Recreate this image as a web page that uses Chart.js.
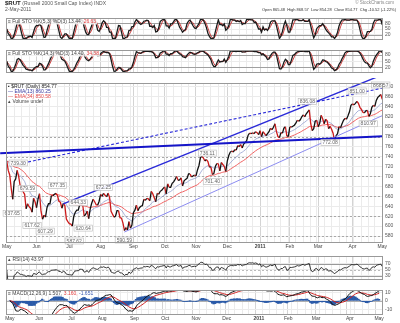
<!DOCTYPE html>
<html><head><meta charset="utf-8">
<script src="https://cdn.jsdelivr.net/npm/chart.js@4.4.1/dist/chart.umd.min.js"></script>
<style>
html,body{margin:0;padding:0;background:#fff;}
body{width:400px;height:323px;position:relative;overflow:hidden;}
canvas{position:absolute;left:0;}
</style></head><body>
<canvas id="hdr" width="400" height="13" style="top:0"></canvas>
<canvas id="c1" width="400" height="32" style="top:13px"></canvas>
<canvas id="c2" width="400" height="33" style="top:45px"></canvas>
<canvas id="c3" width="400" height="173" style="top:78px"></canvas>
<canvas id="c4" width="400" height="34" style="top:251px"></canvas>
<canvas id="c5" width="400" height="38" style="top:285px"></canvas>
<script>
// ---------------- DATA ----------------
const MONTHS = [[2010,5],[2010,6],[2010,7],[2010,8],[2010,9],[2010,10],[2010,11],[2010,12],[2011,1],[2011,2],[2011,3],[2011,4],[2011,5]];
const TRADING_DAYS = [
  [3,4,5,6,7,10,11,12,13,14,17,18,19,20,21,24,25,26,27,28],
  [1,2,3,4,7,8,9,10,11,14,15,16,17,18,21,22,23,24,25,28,29,30],
  [1,2,6,7,8,9,12,13,14,15,16,19,20,21,22,23,26,27,28,29,30],
  [2,3,4,5,6,9,10,11,12,13,16,17,18,19,20,23,24,25,26,27,30,31],
  [1,2,3,7,8,9,10,13,14,15,16,17,20,21,22,23,24,27,28,29,30],
  [1,4,5,6,7,8,11,12,13,14,15,18,19,20,21,22,25,26,27,28,29],
  [1,2,3,4,5,8,9,10,11,12,15,16,17,18,19,22,23,24,26,29,30],
  [1,2,3,6,7,8,9,10,13,14,15,16,17,20,21,22,23,27,28,29,30,31],
  [3,4,5,6,7,10,11,12,13,14,18,19,20,21,24,25,26,27,28,31],
  [1,2,3,4,7,8,9,10,11,14,15,16,17,18,22,23,24,25,28],
  [1,2,3,4,7,8,9,10,11,14,15,16,17,18,21,22,23,24,25,28,29,30,31],
  [1,4,5,6,7,8,11,12,13,14,15,18,19,20,21,25,26,27,28,29],
  [2]
];
const MONTH_NAMES = ['Jan','Feb','Mar','Apr','May','Jun','Jul','Aug','Sep','Oct','Nov','Dec'];
// daily closes of $RUT
const CLOSE = [
  731,712,703,676,654,690,695,712,700,681,680,669,664,635,645,639,636,628,656,649,           // May 2010
  637,655,665,630,614,622,618,637,645,645,662,661,664,666,662,650,648,636,646,641,614,609,   // Jun
  605,604,600,620,628,632,632,644,643,642,620,624,630,615,634,646,654,649,643,642,650,       // Jul
  664,660,666,662,659,666,658,630,624,618,620,631,631,617,616,606,591,597,592,609,596,602,   // Aug
  627,632,642,631,637,640,641,654,652,656,655,651,670,665,657,649,666,664,670,672,676,       // Sep
  679,665,685,678,678,686,689,694,700,692,693,697,681,691,694,696,705,705,699,701,703,       // Oct
  701,713,722,738,740,737,731,734,730,719,719,704,706,720,726,725,711,728,724,720,710,       // Nov
  731,742,749,751,749,754,753,762,760,764,757,765,768,772,783,787,786,788,786,790,788,784,   // Dec
  792,780,790,786,782,786,790,797,794,799,806,790,780,778,788,787,797,800,781,781,           // Jan 2011
  800,799,801,803,807,813,811,814,820,824,820,826,830,834,806,792,796,811,813,               // Feb
  800,807,823,816,806,815,812,796,801,795,787,771,782,786,800,798,806,813,817,815,822,830,843, // Mar
  846,844,847,851,847,839,835,829,828,832,833,821,826,839,843,841,853,859,862,865,           // Apr
  855                                                                                         // May 2
];
// price annotations: [day index, price level, text]
const PRICE_NOTES = [
  [7.7,727,'739.30'],[3.7,625,'637.65'],[13.8,676,'679.59'],[17,601,'617.62'],[25.8,590,'607.29'],
  [34,682,'677.35'],[45.3,570,'587.62'],[48,647,'644.33'],[51.3,596,'620.64'],[64.8,678,'672.25'],
  [78.9,572,'590.59'],[134.6,747,'736.11'],[138,690,'701.40'],[201.7,851,'836.08'],[235.2,872,'851.00'],
  [217,768,'772.08'],[242.6,806,'810.97'],[251,884,'868.57']
];
// trend lines: [[index, price],[index, price]]
const TREND_FLAT  = [[-4.4,746.7],[252.5,781]];
const TREND_UP    = [[37.9,644.7],[252.5,905]];
const TREND_DOT   = [[7.7,725],[252.5,878]];
const TREND_LOW   = [[78.9,588],[252.5,823]];
const MAIN_TICKS  = [580,600,620,640,660,680,700,720,740,760,780,800,820,840,860,880];
const MAIN_DASHED = [580,620,660,700,740,780];
const STO_TICKS = [20,50,80];
const RSI_TICKS = [30,40,50,60,70,80];
const MACD_TICKS = [-10,0,10];

// ---------------- derived indicators (standard definitions applied to CLOSE) ----------------
function ema(a,n){const k=2/(n+1);let e=a[0];return a.map((v,i)=>(e=i?v*k+e*(1-k):v));}
function sma(a,n){return a.map((v,i)=>{const s=a.slice(Math.max(0,i-n+1),i+1);return s.reduce((p,q)=>p+q,0)/s.length;});}
function stoch(c,n,sm,dn){
  const raw=c.map((v,i)=>{const w=c.slice(Math.max(0,i-n+1),i+1);const hi=Math.max(...w),lo=Math.min(...w);return hi===lo?50:(v-lo)/(hi-lo)*100;});
  const k=sma(raw,sm);return {k,d:sma(k,dn)};
}
function rsi(c,n){const out=[50];let ag=0,al=0;for(let i=1;i<c.length;i++){const ch=c[i]-c[i-1],g=Math.max(ch,0),l=Math.max(-ch,0);
  if(i<=n){ag+=(g-ag)/i;al+=(l-al)/i;}else{ag=(ag*(n-1)+g)/n;al=(al*(n-1)+l)/n;}out.push(al===0?100:100-100/(1+ag/al));}return out;}
const N = CLOSE.length;
const EMA13 = ema(CLOSE,13), EMA34 = ema(CLOSE,34);
const STO1 = stoch(CLOSE,5,3,3), STO2 = stoch(CLOSE,14,3,3);
const RSI14 = rsi(CLOSE,14);
const E12 = ema(CLOSE,12), E26 = ema(CLOSE,26);
const MACD = E12.map((v,i)=>v-E26[i]); const SIG = ema(MACD,9); const HIST = MACD.map((v,i)=>v-SIG[i]);

// ---------------- calendar ticks ----------------
const DATES=[];MONTHS.forEach((m,mi)=>TRADING_DAYS[mi].forEach(d=>DATES.push(new Date(Date.UTC(m[0],m[1]-1,d)))));
const WEEK_IDX=[],MONTH_LABEL=new Map();let JAN_IDX=-1;
DATES.forEach((d,i)=>{
  const p=DATES[i-1];
  if(i===0||d.getUTCMonth()!==p.getUTCMonth()){MONTH_LABEL.set(i,d.getUTCMonth()===0?String(d.getUTCFullYear()):MONTH_NAMES[d.getUTCMonth()]);if(d.getUTCMonth()===0)JAN_IDX=i;}
  if(i===0||d.getUTCDay()<=p.getUTCDay()||(d-p)>=6*86400000)WEEK_IDX.push(i);
});
const X_TICKS=[...new Set([...WEEK_IDX,...MONTH_LABEL.keys()])].sort((a,b)=>a-b);
const xy = arr => arr.map((v,i)=>({x:i,y:v}));
const pts = seg => seg.map(p=>({x:p[0],y:p[1]}));

// ---------------- chart helpers ----------------
const FONT='"Liberation Sans", Arial, sans-serif';
Chart.defaults.font.family=FONT;
Chart.defaults.animation=false;
Chart.defaults.events=[];

function deco(cfg){
  return {id:'deco',
    beforeDatasetsDraw(chart){
      const {ctx,chartArea:a,scales:{y}}=chart;ctx.save();
      (cfg.hlines||[]).forEach(h=>{const py=Math.round(y.getPixelForValue(h.v))+0.5;
        ctx.strokeStyle=h.c;ctx.lineWidth=1;ctx.setLineDash(h.dash||[]);
        ctx.beginPath();ctx.moveTo(a.left,py);ctx.lineTo(a.right,py);ctx.stroke();});
      ctx.restore();
    },
    afterDatasetsDraw(chart){
      const {ctx,chartArea:a,scales:{x,y}}=chart;ctx.save();
      ctx.font='5px '+FONT;ctx.textBaseline='top';
      (cfg.notes||[]).forEach(n=>{
        const px=x.getPixelForValue(n[0]),py=y.getPixelForValue(n[1]);
        const w=ctx.measureText(n[2]).width+3,h=6;
        ctx.fillStyle='rgba(255,255,255,0.9)';ctx.fillRect(px-w/2,py-h/2,w,h);
        ctx.strokeStyle='#b8b8b8';ctx.lineWidth=0.6;ctx.strokeRect(px-w/2,py-h/2,w,h);
        ctx.fillStyle='#666';ctx.fillText(n[2],px-w/2+1.5,py-h/2+0.7);
      });
      let ty=a.top+1.5;
      (cfg.legend||[]).forEach(line=>{
        let lx=a.left+2;
        const w=line.reduce((s,g)=>s+ctx.measureText(g.t).width,0);
        ctx.fillStyle='rgba(255,255,255,0.85)';ctx.fillRect(lx-1,ty-0.5,w+2,5.5);
        line.forEach(g=>{ctx.fillStyle=g.c;ctx.fillText(g.t,lx,ty);lx+=ctx.measureText(g.t).width;});
        ty+=5;
      });
      ctx.strokeStyle='#999';ctx.lineWidth=1;ctx.setLineDash([]);
      ctx.strokeRect(Math.round(a.left)+0.5,Math.round(a.top)+0.5,Math.round(a.right-a.left)-1,Math.round(a.bottom-a.top)-1);
      ctx.restore();
    }};
}

function makeChart(id,datasets,yo,o){
  return new Chart(document.getElementById(id),{
    type:'line',
    data:{datasets},
    options:{
      responsive:false,maintainAspectRatio:false,
      layout:{padding:{left:6,right:0,top:o.padTop||0,bottom:o.padBottom||0}},
      plugins:{legend:{display:false},tooltip:{enabled:false}},
      elements:{point:{radius:0},line:{tension:0}},
      scales:{
        x:{type:'linear',min:-0.5,max:N-0.5,
          afterBuildTicks(s){s.ticks=X_TICKS.map(v=>({value:v}));},
          grid:{color:c=>MONTH_LABEL.has(c.tick&&c.tick.value)?'#d4d4d4':'#ebebeb',drawTicks:false,lineWidth:1},
          border:{display:false},
          ticks:{display:!!o.showX,autoSkip:false,maxRotation:0,padding:1,color:'#444',
            font:c=>({size:5,family:FONT,weight:(c.tick&&c.tick.value===JAN_IDX)?'bold':'normal'}),
            callback:v=>MONTH_LABEL.get(v)||''}},
        y:{position:'right',min:yo.min,max:yo.max,
          afterFit(s){s.width=17;},
          afterBuildTicks(s){s.ticks=yo.ticks.map(v=>({value:v}));},
          grid:{color:'#ebebeb',drawTicks:false},
          border:{display:false},
          ticks:{padding:2,color:'#555',font:{size:5,family:FONT}}}
      }
    },
    plugins:[deco(o)]
  });
}

const line=(data,color,w,extra)=>Object.assign({data,borderColor:color,borderWidth:w,pointRadius:0,fill:false},extra||{});

// Stoch panels
makeChart('c1',[line(xy(STO1.k),'#1a1a1a',1.3),line(xy(STO1.d),'#c82828',0.9)],
  {min:-8,max:108,ticks:STO_TICKS},
  {padBottom:1,hlines:[{v:80,c:'#a0a0a0'},{v:20,c:'#a0a0a0'}],
   legend:[[{t:'\u2261 Full STO %K(5,3) %D(3) 13.44, ',c:'#444'},{t:'26.63',c:'#e03c3c'}]]});
makeChart('c2',[line(xy(STO2.k),'#1a1a1a',1.3),line(xy(STO2.d),'#c82828',0.9)],
  {min:-8,max:105,ticks:STO_TICKS},
  {padTop:1,hlines:[{v:80,c:'#a0a0a0'},{v:20,c:'#a0a0a0'}],
   legend:[[{t:'\u2261 Full STO %K(14,3) %D(3) 14.40, ',c:'#444'},{t:'34.38',c:'#e03c3c'}]]});

// Main price panel
makeChart('c3',[
  line(pts(TREND_FLAT),'#1414c8',2,{clip:false}),
  line(pts(TREND_UP),'#2a2ad8',1.4,{clip:false}),
  line(pts(TREND_DOT),'#2a2ad8',1.1,{borderDash:[3,2]}),
  line(pts(TREND_LOW),'#8c8cf0',1),
  line(xy(CLOSE),'#111',1.3,{segment:{borderColor:c=>c.p1.parsed.y<c.p0.parsed.y?'#cc1a1a':'#111'}}),
  line(xy(EMA13),'#7080c0',0.6),
  line(xy(EMA34),'#f06060',1)
],{min:566,max:888,ticks:MAIN_TICKS},
{padTop:1,showX:true,notes:PRICE_NOTES,
 hlines:MAIN_DASHED.map(v=>({v,c:'#a8a8a8',dash:[2,2]})),
 legend:[[{t:'\u25AA $RUT (Daily) 854.77',c:'#222'}],[{t:'\u2014 EMA(13) 860.25',c:'#3a3aa0'}],
         [{t:'\u2014 EMA(34) 850.58',c:'#e04848'}],[{t:'\u25B4 Volume undef',c:'#444'}]]});

// RSI panel
makeChart('c4',[line(xy(RSI14),'#222',0.9)],
  {min:16,max:96,ticks:RSI_TICKS},
  {padTop:1,hlines:[{v:70,c:'#999'},{v:30,c:'#999'},{v:50,c:'#bbb',dash:[2,2]}],
   legend:[[{t:'\u25B4 RSI(14) 43.97',c:'#444'}]]});

// MACD panel
makeChart('c5',[
  line(xy(MACD),'#111',1),
  line(xy(SIG),'#d02020',1),
  {type:'bar',data:xy(HIST),backgroundColor:'#2a5aa8',barPercentage:1,categoryPercentage:1}
],{min:-16.5,max:12.5,ticks:MACD_TICKS},
{showX:true,hlines:[{v:0,c:'#b0b0b0'}],
 legend:[[{t:'\u2261 MACD(12,26,9) 1.507, ',c:'#444'},{t:'3.160, ',c:'#e03c3c'},{t:'-1.651',c:'#3a5ab0'}]]});

// Header
(function(){
  const c=document.getElementById('hdr').getContext('2d');
  c.textBaseline='top';
  c.font='bold 6px '+FONT;c.fillStyle='#222';c.fillText('$RUT',5,0.5);
  const w=c.measureText('$RUT ').width;
  c.font='5px '+FONT;c.fillStyle='#555';c.fillText('(Russell 2000 Small Cap Index) INDX',5+w,1);
  c.fillText('2-May-2011',5,7.5);
  c.font='4.5px '+FONT;c.fillStyle='#888';c.textAlign='right';c.fillText('\u00A9 StockCharts.com',394,0.5);
  c.font='4px '+FONT;c.fillStyle='#333';
  c.fillText('Open 865.48  High 868.57  Low 854.28  Close 854.77  Chg -10.52 (-1.22%)',396,7.5);
})();
</script>
</body></html>
